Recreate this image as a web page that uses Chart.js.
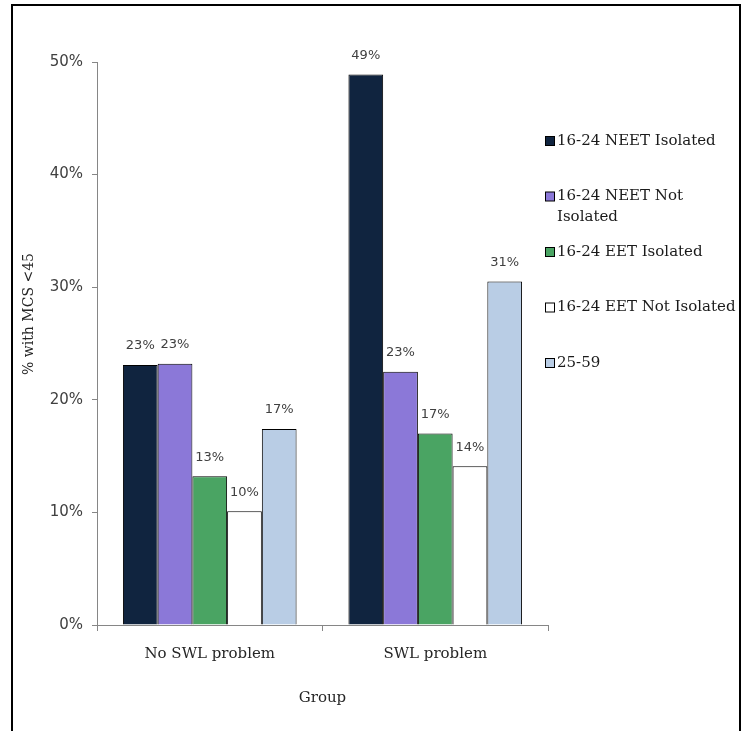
<!DOCTYPE html>
<html>
<head>
<meta charset="utf-8">
<script src="https://cdn.jsdelivr.net/npm/chart.js@4.4.1/dist/chart.umd.min.js"></script>
<style>
    html, body { margin: 0; padding: 0; background: #fff; }
    #wrap { position: relative; width: 745px; height: 731px; overflow: hidden; }
    #frame {
        position: absolute; left: 11px; top: 4px; width: 726px; height: 760px;
        border: 2px solid #000; pointer-events: none;
    }
    canvas { position: absolute; left: 0; top: 0; }
</style>
</head>
<body>
<div id="wrap">
    <canvas id="mcsChart" width="745" height="731"></canvas>
    <div id="frame"></div>
</div>
<script>
// --- % with MCS <45 by group ---

const groups = ['No SWL problem', 'SWL problem'];
const seriesNames = ['16-24 NEET Isolated', '16-24 NEET Not Isolated', '16-24 EET Isolated', '16-24 EET Not Isolated', '25-59'];
const seriesColors = ['#10243f', '#8b78d8', '#4aa463', '#ffffff', '#b9cde5'];

// values in percent, one list per series: [No SWL problem, SWL problem]
const neetIsolated = [23.1, 48.9];
const neetNotIsolated = [23.2, 22.5];
const eetIsolated = [13.2, 17.0];
const eetNotIsolated = [10.1, 14.1];
const age25to59 = [17.4, 30.5];

const yTicks = [0, 10, 20, 30, 40, 50];
const yTitle = '% with MCS <45';

const serifFont = "'DejaVu Serif', serif";
const sansFont = "'DejaVu Sans', sans-serif";

// value labels above each bar
const barLabels = {
    id: 'barLabels',
    afterDatasetsDraw(chart) {
        const ctx = chart.ctx;
        ctx.save();
        ctx.font = '13px ' + sansFont;
        ctx.fillStyle = '#404040';
        ctx.textAlign = 'center';
        ctx.textBaseline = 'middle';
        chart.data.datasets.forEach((ds, i) => {
            chart.getDatasetMeta(i).data.forEach((bar, j) => {
                ctx.fillText(Math.round(ds.data[j]) + '%', bar.x, bar.y - 19);
            });
        });
        ctx.restore();
    }
};

// y title sits a bit above the plot centre in the original, so draw it by hand
const yAxisTitle = {
    id: 'yAxisTitle',
    afterDraw(chart) {
        const ctx = chart.ctx;
        ctx.save();
        ctx.translate(29, 314);
        ctx.rotate(-Math.PI / 2);
        ctx.font = '14px ' + serifFont;
        ctx.fillStyle = '#262626';
        ctx.textAlign = 'center';
        ctx.textBaseline = 'middle';
        ctx.fillText(yTitle, 0, 0);
        ctx.restore();
    }
};

// legend on the right, wraps long names like the original
const sideLegend = {
    id: 'sideLegend',
    afterDraw(chart) {
        const ctx = chart.ctx;
        const x0 = chart.chartArea.right - 3;
        let y = 141;
        ctx.save();
        ctx.font = '15px ' + serifFont;
        ctx.textBaseline = 'middle';
        chart.data.datasets.forEach(ds => {
            ctx.fillStyle = ds.backgroundColor;
            ctx.fillRect(x0 + 0.5, y - 4.5, 9, 9);
            ctx.strokeStyle = '#000';
            ctx.lineWidth = 1;
            ctx.strokeRect(x0 + 0.5, y - 4.5, 9, 9);

            // word wrap
            const words = ds.label.split(' ');
            const lines = [];
            let line = '';
            words.forEach(w => {
                const test = line ? line + ' ' + w : w;
                if (ctx.measureText(test).width > 182 && line) {
                    lines.push(line);
                    line = w;
                } else {
                    line = test;
                }
            });
            lines.push(line);

            ctx.fillStyle = '#1a1a1a';
            ctx.textAlign = 'left';
            lines.forEach((l, k) => {
                ctx.fillText(l, x0 + 12, y + k * 21);
            });
            y += 55.5;
        });
        ctx.restore();
    }
};

const seriesData = [neetIsolated, neetNotIsolated, eetIsolated, eetNotIsolated, age25to59];

new Chart(document.getElementById('mcsChart'), {
    type: 'bar',
    data: {
        labels: groups,
        datasets: seriesNames.map((name, i) => ({
            label: name,
            data: seriesData[i],
            backgroundColor: seriesColors[i],
            borderColor: '#000',
            borderWidth: 1,
            borderSkipped: 'bottom',
            categoryPercentage: 0.77,
            barPercentage: 1.0
        }))
    },
    options: {
        responsive: false,
        animation: false,
        devicePixelRatio: 1,
        layout: { padding: { top: 62, right: 197, left: 0, bottom: 0 } },
        plugins: {
            legend: { display: false },
            tooltip: { enabled: false }
        },
        scales: {
            x: {
                afterFit(scale) { scale.height = 106; },
                grid: { offset: true, drawOnChartArea: false, tickLength: 6, color: '#868686' },
                border: { color: '#868686' },
                ticks: { font: { family: serifFont, size: 15 }, color: '#262626', padding: 14 },
                title: {
                    display: true,
                    text: 'Group',
                    font: { family: serifFont, size: 15 },
                    color: '#262626',
                    padding: { top: 0, bottom: 24 }
                }
            },
            y: {
                min: 0,
                max: 50,
                afterFit(scale) { scale.width = 97; },
                afterBuildTicks(scale) { scale.ticks = yTicks.map(v => ({ value: v })); },
                grid: { drawOnChartArea: false, tickLength: 5, color: '#868686' },
                border: { color: '#868686' },
                ticks: {
                    font: { family: sansFont, size: 15 },
                    color: '#404040',
                    padding: 9,
                    callback: v => v + '%'
                },
                title: { display: false }
            }
        }
    },
    plugins: [barLabels, yAxisTitle, sideLegend]
});
</script>
</body>
</html>
